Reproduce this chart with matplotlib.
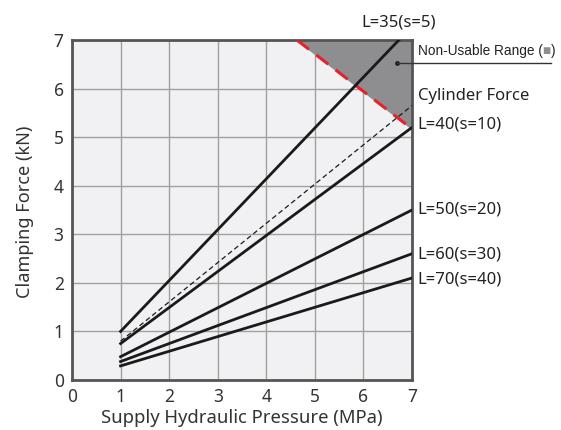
import numpy as np
import matplotlib.pyplot as plt

# line end points (pressure MPa -> clamping force kN)
pressure = [1, 7]
l35_x = [1, 6.73]
l35_y = [1.0, 7.0]
l40_y = [0.75, 5.2]
cyl_y = [0.8, 5.65]
l50_y = [0.48, 3.5]
l60_y = [0.38, 2.6]
l70_y = [0.29, 2.1]
limit_x = [4.63, 7]
limit_y = [7.0, 5.17]

labels = ['L=35(s=5)', 'Cylinder Force', 'L=40(s=10)', 'L=50(s=20)', 'L=60(s=30)', 'L=70(s=40)']

plt.rcParams['font.family'] = ['Noto Sans', 'DejaVu Sans']

fig = plt.figure(figsize=(5.61, 4.30), dpi=100)
ax = fig.add_axes([72 / 561, 50 / 430, 340 / 561, 340 / 430])
ax.set_facecolor('#f1f1f3')

ax.set_xlim(0, 7)
ax.set_ylim(0, 7)
ax.set_xticks(range(8))
ax.set_yticks(range(8))
ax.grid(True, color='#a0a0a0', lw=1)
ax.set_axisbelow(True)
ax.tick_params(length=0, labelsize=12.5, colors='#333333', pad=6)
for s in ax.spines.values():
    s.set_color('#555555')
    s.set_linewidth(2)

# non-usable range
ax.fill_between(limit_x, limit_y, 7, color='#8e8e90', zorder=1.5)
ax.plot(limit_x, limit_y, color='#e8202a', lw=2.2, dashes=(5, 3), zorder=3)

ax.plot(l35_x, l35_y, color='#1a1a1a', lw=2, zorder=4)
ax.plot(pressure, cyl_y, color='#1a1a1a', lw=0.9, dashes=(4, 2.5), zorder=4)
for ys in [l40_y, l50_y, l60_y, l70_y]:
    ax.plot(pressure, ys, color='#1a1a1a', lw=2, zorder=4)

ax.set_xlabel('Supply Hydraulic Pressure (MPa)', fontsize=13.3, color='#333333', labelpad=2)
ax.set_ylabel('Clamping Force (kN)', fontsize=13.1, color='#333333')
ax.yaxis.set_label_coords(-0.112, 0.494)

# right-hand labels
ax.text(6.73, 7.37, labels[0], fontsize=12, color='#222222', ha='center', va='center', clip_on=False)
ax.text(7.12, 5.85, labels[1], fontsize=12, color='#222222', ha='left', va='center', clip_on=False)
ax.text(7.12, 5.27, labels[2], fontsize=12, color='#222222', ha='left', va='center', clip_on=False)
ax.text(7.12, 3.5, labels[3], fontsize=12, color='#222222', ha='left', va='center', clip_on=False)
ax.text(7.12, 2.59, labels[4], fontsize=12, color='#222222', ha='left', va='center', clip_on=False)
ax.text(7.12, 2.06, labels[5], fontsize=12, color='#222222', ha='left', va='center', clip_on=False)

# leader for the non-usable range
ax.plot([6.69], [6.53], 'o', color='#222222', ms=2.5, zorder=5, clip_on=False)
ax.plot([6.69, 9.87], [6.53, 6.53], color='#333333', lw=1, zorder=5, clip_on=False)
nf = ['Liberation Sans', 'DejaVu Sans']
t1 = ax.text(7.12, 6.62, 'Non-Usable Range (', fontsize=9.8, color='#222222', ha='left', va='bottom',
             family=nf, clip_on=False)
t2 = ax.annotate('\u25a0', xy=(1, 0), xycoords=t1, va='bottom', fontsize=9.8, color='#8e8e90', family=nf)
ax.annotate(')', xy=(1, 0), xycoords=t2, va='bottom', fontsize=9.8, color='#222222', family=nf)

fig.savefig('out.png', dpi=100)
